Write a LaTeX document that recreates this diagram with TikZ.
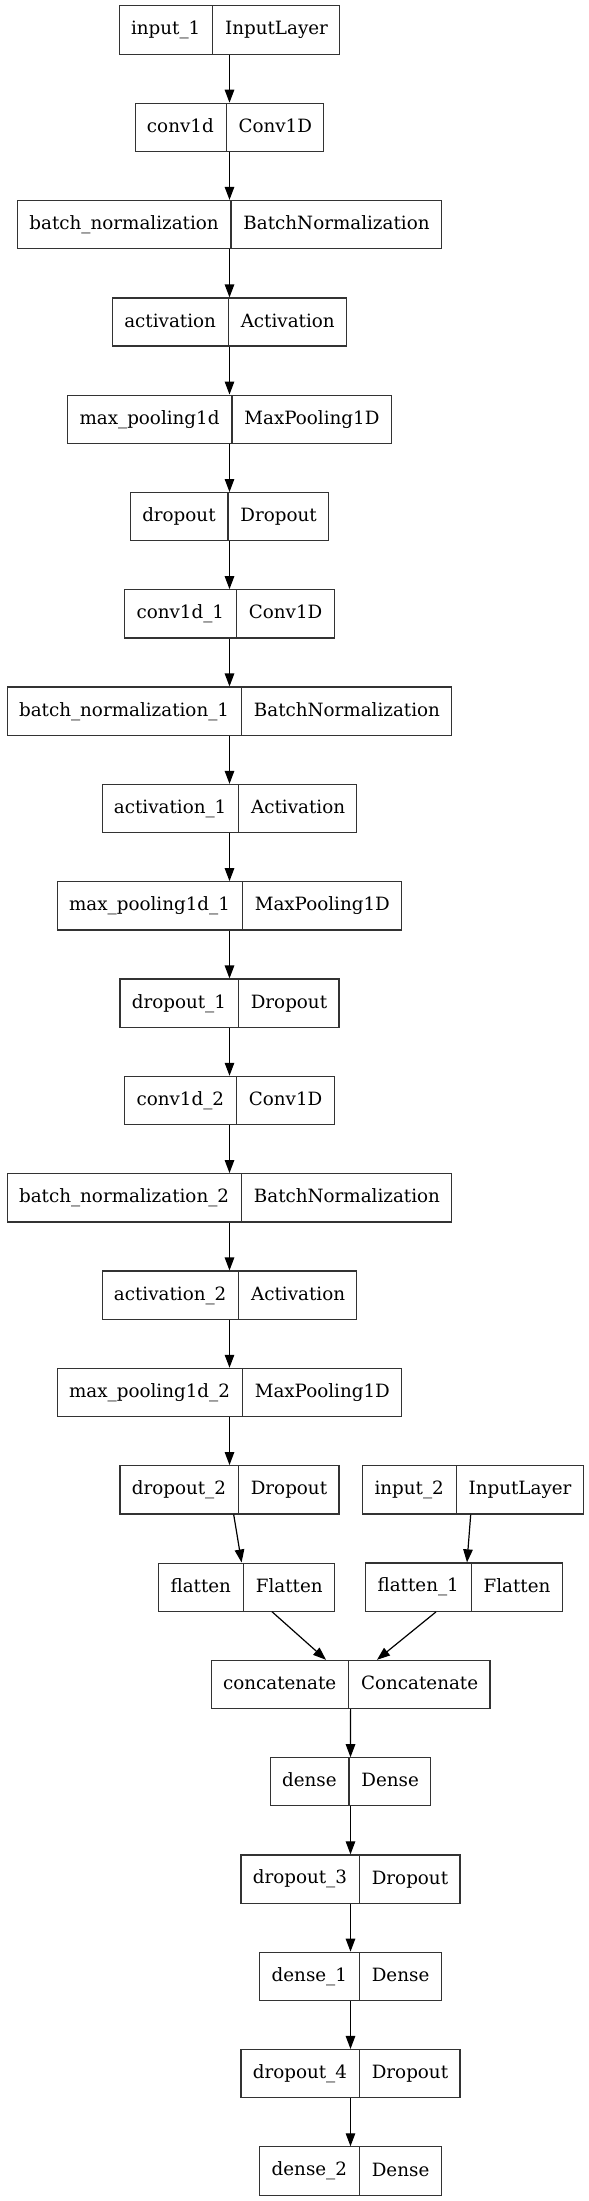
\documentclass[tikz,border=0pt]{standalone}
\usepackage{fontspec}
\setmainfont{DejaVu Serif}
\usetikzlibrary{shapes.multipart,arrows.meta,calc}
\newcommand\rs{\rule[-4pt]{0pt}{18pt}}
\newcommand\lay[5]{\node[layer] (#1) at (#2,#3) {\rs #4\nodepart{two}\rs #5};}
\begin{document}
\begin{tikzpicture}[x=1pt,y=1pt,
  layer/.style={draw=black!80, line width=1.2pt, rectangle split, rectangle split horizontal,
    rectangle split parts=2, inner xsep=11.8pt, inner ysep=15pt,
    font=\fontsize{18.3}{22}\selectfont},
  conn/.style={-{Triangle[length=13pt,width=9.5pt]}, line width=1.2pt, draw=black}]
\useasboundingbox (0,0) rectangle (589,-2201);
\def\mx{229.5}
\lay{in1}{\mx}{-30}{input\_1}{InputLayer}
\lay{c0}{\mx}{-127.3}{conv1d}{Conv1D}
\lay{bn0}{\mx}{-224.6}{batch\_normalization}{BatchNormalization}
\lay{a0}{\mx}{-322.0}{activation}{Activation}
\lay{mp0}{\mx}{-419.3}{max\_pooling1d}{MaxPooling1D}
\lay{d0}{\mx}{-516.6}{dropout}{Dropout}
\lay{c1}{\mx}{-613.9}{conv1d\_1}{Conv1D}
\lay{bn1}{\mx}{-711.2}{batch\_normalization\_1}{BatchNormalization}
\lay{a1}{\mx}{-808.6}{activation\_1}{Activation}
\lay{mp1}{\mx}{-905.9}{max\_pooling1d\_1}{MaxPooling1D}
\lay{d1}{\mx}{-1003.2}{dropout\_1}{Dropout}
\lay{c2}{\mx}{-1100.5}{conv1d\_2}{Conv1D}
\lay{bn2}{\mx}{-1197.8}{batch\_normalization\_2}{BatchNormalization}
\lay{a2}{\mx}{-1295.2}{activation\_2}{Activation}
\lay{mp2}{\mx}{-1392.5}{max\_pooling1d\_2}{MaxPooling1D}
\lay{d2}{\mx}{-1489.8}{dropout\_2}{Dropout}
\lay{in2}{473}{-1489.8}{input\_2}{InputLayer}
\lay{fl}{246.6}{-1587.1}{flatten}{Flatten}
\lay{fl1}{464}{-1587.1}{flatten\_1}{Flatten}
\lay{cat}{350.6}{-1684.4}{concatenate}{Concatenate}
\lay{de}{350.5}{-1781.8}{dense}{Dense}
\lay{d3}{350.5}{-1879.1}{dropout\_3}{Dropout}
\lay{de1}{350.5}{-1976.4}{dense\_1}{Dense}
\lay{d4}{350.5}{-2073.7}{dropout\_4}{Dropout}
\lay{de2}{350.5}{-2171.0}{dense\_2}{Dense}
\foreach \a/\b in {in1/c0,c0/bn0,bn0/a0,a0/mp0,mp0/d0,d0/c1,c1/bn1,bn1/a1,a1/mp1,mp1/d1,d1/c2,c2/bn2,bn2/a2,a2/mp2,mp2/d2,cat/de,de/d3,d3/de1,de1/d4,d4/de2}
  \draw[conn] (\a.south) -- (\b.north);
\draw[conn] ($(d2.south)+(4.2,0)$) -- ($(fl.north)+(-5,0)$);
\draw[conn] ($(in2.south)+(-2.3,0)$) -- ($(fl1.north)+(3,0)$);
\draw[conn] ($(fl.south)+(25.4,0)$) -- ($(cat.north)+(-24.6,0)$);
\draw[conn] ($(fl1.south)+(-28,0)$) -- ($(cat.north)+(26.4,0)$);
\end{tikzpicture}
\end{document}
